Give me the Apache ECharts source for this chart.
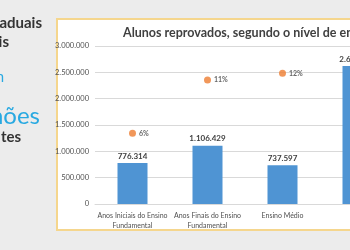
<!DOCTYPE html>
<html><head><meta charset="utf-8">
<script src="https://cdn.jsdelivr.net/npm/echarts@6/dist/echarts.min.js"></script>
<style>html,body{margin:0;padding:0;background:#ececec;}#c{width:350px;height:250px;}</style>
</head><body><div id="c"></div>
<script>
const categories = ['Anos Iniciais do Ensino\nFundamental', 'Anos Finais do Ensino\nFundamental', 'Ensino Médio', 'Total'];
const reprovados = [776314, 1106429, 737597, 2620340];
const pctPosition = [1342000, 2354000, 2482000, null];
const pctLabels = ['6%', '11%', '12%', ''];
const yTicks = [0, 500000, 1000000, 1500000, 2000000, 2500000, 3000000];
const titleText = 'Alunos reprovados, segundo o nível de ensino';
const sideLines = ['aduais', 'is', 'n', 'hões', 'tes'];

function fmt(v){ return String(v).replace(/\B(?=(\d{3})+(?!\d))/g, '.'); }

const chart = echarts.init(document.getElementById('c'), null, {renderer:'canvas'});
chart.setOption({
  backgroundColor: '#ececec',
  animation: false,
  textStyle: {fontFamily: 'Lato'},
  graphic: [
    {type:'rect', z:-10, shape:{x:57, y:19, width:400, height:211}, style:{fill:'#ffffff', stroke:'#f5d68d', lineWidth:2}},
    {type:'text', z:10, left:123, top:26, style:{text:titleText, font:'bold 12.5px Lato', fill:'#404040'}},
    {type:'text', x:42, y:23, style:{text:sideLines[0], font:'bold 15px Lato', fill:'#333333', align:'right', verticalAlign:'middle'}},
    {type:'text', x:9, y:42, style:{text:sideLines[1], font:'bold 15px Lato', fill:'#333333', align:'right', verticalAlign:'middle'}},
    {type:'text', x:4, y:77, style:{text:sideLines[2], font:'15px Lato', fill:'#29a9e1', align:'right', verticalAlign:'middle'}},
    {type:'text', x:40, y:116, style:{text:sideLines[3], font:'24px Lato', fill:'#29a9e1', align:'right', verticalAlign:'middle'}},
    {type:'text', x:21, y:137, style:{text:sideLines[4], font:'bold 15px Lato', fill:'#333333', align:'right', verticalAlign:'middle'}}
  ],
  grid: {left:95, top:46, width:300, height:158, containLabel:false, outerBoundsMode:'none'},
  xAxis: {
    type:'category', data:categories,
    axisLine:{lineStyle:{color:'#d9d9d9'}}, axisTick:{show:false},
    axisLabel:{color:'#505050', fontSize:7, fontFamily:'Lato', lineHeight:10, margin:7, interval:0, hideOverlap:false}
  },
  yAxis: {
    type:'value', min:0, max:3000000, interval:500000,
    axisLine:{show:false}, axisTick:{show:false},
    splitLine:{lineStyle:{color:'#d9d9d9'}},
    axisLabel:{color:'#505050', fontSize:7.5, fontFamily:'Lato', margin:6, formatter: v => yTicks.includes(v) ? fmt(v) : ''}
  },
  series: [
    {type:'bar', data:reprovados, barWidth:30, itemStyle:{color:'#4f94d3'},
     label:{show:true, position:'top', distance:3, fontSize:8, fontFamily:'Lato', fontWeight:'bold', color:'#404040', formatter: p => fmt(p.value)}},
    {type:'scatter', data:pctPosition, symbolSize:7, itemStyle:{color:'#ed7d31'},
     label:{show:true, position:'right', distance:3, fontSize:7, fontFamily:'Lato', fontWeight:'bold', color:'#404040', formatter: p => pctLabels[p.dataIndex]}}
  ]
});
</script></body></html>
